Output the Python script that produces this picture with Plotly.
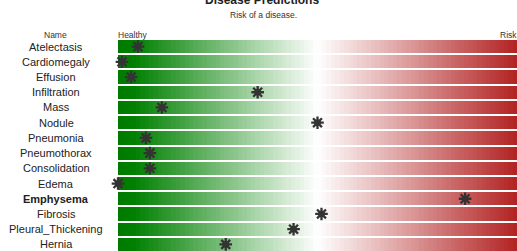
import plotly.graph_objects as go
import numpy as np

names = ["Atelectasis", "Cardiomegaly", "Effusion", "Infiltration", "Mass", "Nodule",
         "Pneumonia", "Pneumothorax", "Consolidation", "Edema", "Emphysema", "Fibrosis",
         "Pleural_Thickening", "Hernia"]
risk = [0.05, 0.01, 0.033, 0.35, 0.11, 0.50, 0.07, 0.08, 0.08, 0.0, 0.87, 0.51, 0.44, 0.27]

W, H = 517, 252
L, R, T, B = 118, 0, 39, 0
PW, PH = W - L - R, H - T - B

def px_x(p):
    return (p - L) / PW

def px_y(p):
    return (H - B - p) / PH

ncol = 90
edges = np.linspace(0, 1, ncol + 1)
centers = (edges[:-1] + edges[1:]) / 2
z = [list(centers) for _ in names]

colorscale = [[0.0, "#007a00"], [0.04, "#008000"], [0.5, "#ffffff"], [1.0, "#b22222"]]

fig = go.Figure()
fig.add_trace(go.Heatmap(x=edges, y=names, z=z, colorscale=colorscale, zmin=0, zmax=1,
                         showscale=False, ygap=2, xgap=0, hoverinfo="skip"))
fig.add_trace(go.Scatter(x=risk, y=names, mode="markers", cliponaxis=False,
                         marker=dict(symbol="circle", size=6.5, color="#333333"),
                         hoverinfo="skip"))
fig.add_trace(go.Scatter(x=risk, y=names, mode="markers", cliponaxis=False,
                         marker=dict(symbol="asterisk-open", size=10.5, color="#333333",
                                     line=dict(width=2.3, color="#333333")),
                         hoverinfo="x+y"))

font = "Liberation Sans, Arial, Helvetica, sans-serif"
top_i = int(np.argmax(risk))
annotations = []
for i, n in enumerate(names):
    txt = f"<b>{n}</b>" if i == top_i else n
    annotations.append(dict(x=px_x(56), xref="paper", y=n, yref="y", text=txt,
                            showarrow=False, xanchor="center", yanchor="middle",
                            font=dict(family=font, size=11, color="#222222")))
annotations += [
    dict(x=px_x(262), xref="paper", y=px_y(0.5), yref="paper", text="<b>Disease Predictions</b>",
         showarrow=False, xanchor="center", yanchor="middle",
         font=dict(family=font, size=12, color="#222222")),
    dict(x=px_x(263), xref="paper", y=px_y(15), yref="paper", text="Risk of a disease.",
         showarrow=False, xanchor="center", yanchor="middle",
         font=dict(family=font, size=8.5, color="#333333")),
    dict(x=px_x(55), xref="paper", y=px_y(35), yref="paper", text="Name",
         showarrow=False, xanchor="center", yanchor="middle",
         font=dict(family=font, size=8.5, color="#333333")),
    dict(x=0, xref="paper", y=px_y(35), yref="paper", text="Healthy",
         showarrow=False, xanchor="left", yanchor="middle", xshift=-2,
         font=dict(family=font, size=8.5, color="#333333")),
    dict(x=1, xref="paper", y=px_y(35), yref="paper", text="Risk",
         showarrow=False, xanchor="right", yanchor="middle", xshift=2,
         font=dict(family=font, size=8.5, color="#333333")),
]

fig.update_layout(
    width=W, height=H, margin=dict(l=L, r=R, t=T, b=B, pad=0),
    paper_bgcolor="white", plot_bgcolor="white", showlegend=False,
    xaxis=dict(range=[0, 1], showgrid=False, zeroline=False, showticklabels=False,
               fixedrange=True),
    yaxis=dict(range=[len(names) - 0.5, -0.5], showgrid=False, zeroline=False,
               showticklabels=False, type="category", fixedrange=True),
    annotations=annotations,
)
fig.write_html("out.html", config={"displayModeBar": False},
               post_script="document.body.style.margin='0';document.body.style.overflow='hidden';")
